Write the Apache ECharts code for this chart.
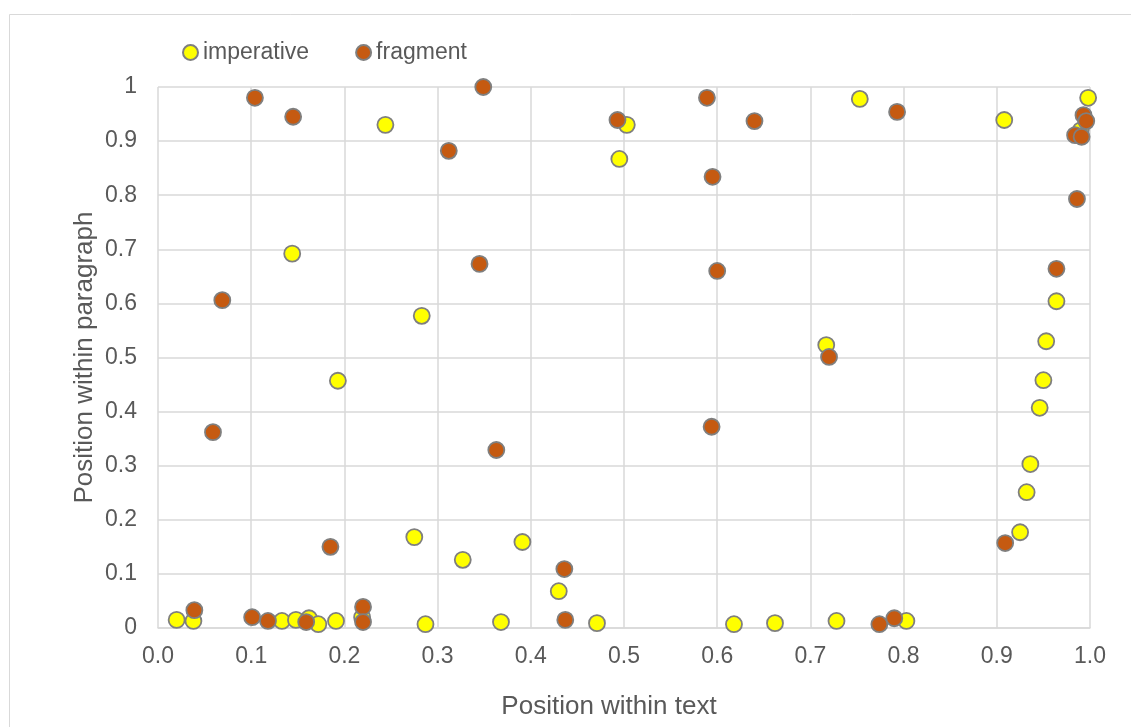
<!DOCTYPE html>
<html>
<head>
<meta charset="utf-8">
<script src="https://cdn.jsdelivr.net/npm/echarts@6/dist/echarts.min.js"></script>
<style>
html,body{margin:0;padding:0;background:#fff;}
#chart{width:1131px;height:727px;}
</style>
</head>
<body>
<div id="chart"></div>
<script>
// Data
const seriesNames = ['imperative', 'fragment'];
const imperativeX = [0.020,0.038,0.133,0.148,0.162,0.172,0.191,0.219,0.287,0.368,0.430,0.471,0.618,0.662,0.728,0.803,
  0.144,0.244,0.193,0.283,0.275,0.327,0.391,0.495,0.503,0.717,0.753,0.908,
  0.998,0.990,0.964,0.953,0.950,0.946,0.936,0.932,0.925];
const imperativeY = [0.015,0.013,0.013,0.015,0.018,0.007,0.013,0.020,0.007,0.011,0.068,0.009,0.007,0.009,0.013,0.013,
  0.692,0.930,0.457,0.577,0.168,0.126,0.159,0.867,0.930,0.523,0.978,0.939,
  0.980,0.920,0.604,0.530,0.458,0.407,0.303,0.251,0.177];
const fragmentX = [0.039,0.101,0.118,0.159,0.220,0.220,0.437,0.774,0.790,
  0.104,0.145,0.069,0.059,0.185,0.312,0.349,0.345,0.363,0.436,0.493,0.589,0.595,0.600,0.594,0.640,0.720,0.793,
  0.993,0.996,0.984,0.991,0.986,0.964,0.909];
const fragmentY = [0.033,0.020,0.013,0.011,0.039,0.011,0.015,0.007,0.018,
  0.980,0.945,0.606,0.362,0.150,0.882,1.000,0.673,0.329,0.109,0.939,0.980,0.834,0.660,0.372,0.937,0.501,0.954,
  0.948,0.937,0.911,0.908,0.793,0.664,0.157];
const xTitle = 'Position within text';
const yTitle = 'Position within paragraph';

function pairs(xs, ys){ return xs.map((x,i)=>[x, ys[i]]); }

const FONT = '"Liberation Sans", Arial, sans-serif';
const TXT = '#595959';
const chart = echarts.init(document.getElementById('chart'), null, {renderer:'canvas'});
chart.setOption({
  animation:false,
  backgroundColor:'#ffffff',
  graphic:[{type:'rect', left:7, top:12, shape:{width:1300, height:900}, style:{fill:'none', stroke:'#D9D9D9', lineWidth:1}, silent:true, z:-10}],
  legend:{
    left:177, top:36, itemWidth:15, itemHeight:15, itemGap:46,
    textStyle:{fontFamily:FONT, fontSize:23, color:TXT},
    data:seriesNames
  },
  grid:{left:158, right:41, top:87, bottom:99, containLabel:false},
  xAxis:{
    type:'value', min:0, max:1, interval:0.1,
    name:xTitle, nameLocation:'middle', nameGap:66,
    nameTextStyle:{fontFamily:FONT, fontSize:26, color:TXT, padding:[0,30,0,0]},
    axisLine:{show:true, lineStyle:{color:'#D9D9D9', width:1.5}},
    axisTick:{show:false},
    splitLine:{show:true, lineStyle:{color:'#D9D9D9', width:1.5}},
    axisLabel:{fontFamily:FONT, fontSize:23, color:TXT, margin:17, formatter:v=>v.toFixed(1)}
  },
  yAxis:{
    type:'value', min:0, max:1, interval:0.1,
    name:yTitle, nameLocation:'middle', nameGap:60, nameMoveOverlap:false,
    nameTextStyle:{fontFamily:FONT, fontSize:26, color:TXT},
    axisLine:{show:false},
    axisTick:{show:false},
    splitLine:{show:true, lineStyle:{color:'#D9D9D9', width:1.5}},
    axisLabel:{fontFamily:FONT, fontSize:23, color:TXT, margin:21, formatter:v=>String(Math.round(v*10)/10)}
  },
  series:[
    {name:seriesNames[0], type:'scatter', symbol:'circle', symbolSize:16,
     itemStyle:{color:'#FFFF00', borderColor:'#7F7F7F', borderWidth:1.8, opacity:1},
     data:pairs(imperativeX, imperativeY), z:2},
    {name:seriesNames[1], type:'scatter', symbol:'circle', symbolSize:16,
     itemStyle:{color:'#C55A11', borderColor:'#7F7F7F', borderWidth:1.8, opacity:1},
     data:pairs(fragmentX, fragmentY), z:3}
  ]
});
</script>
</body>
</html>
